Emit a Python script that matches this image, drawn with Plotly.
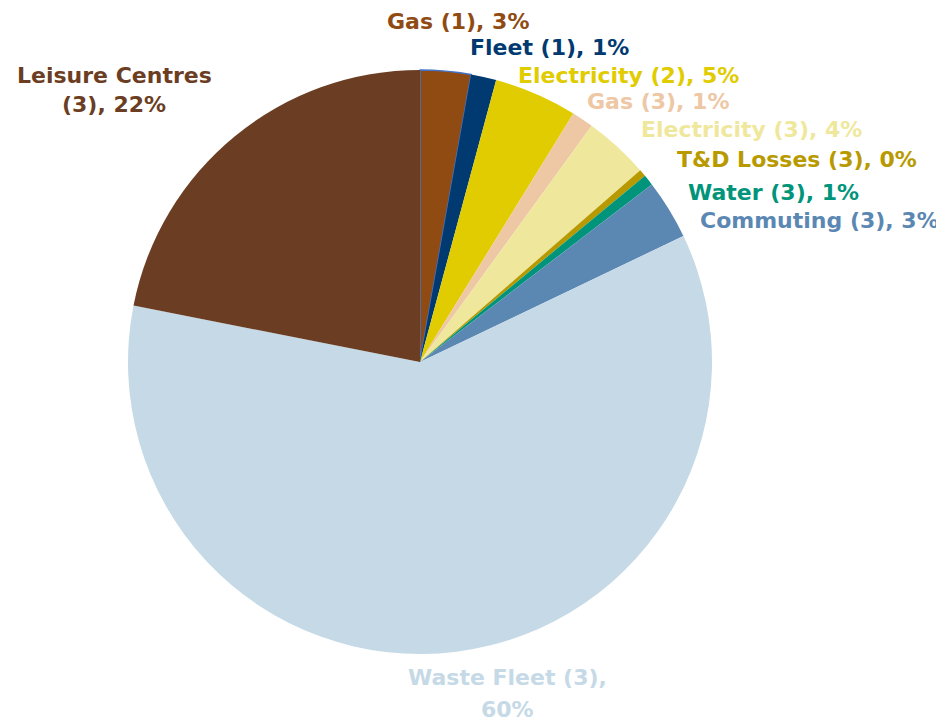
import plotly.graph_objects as go

labels = ['Gas (1)', 'Fleet (1)', 'Electricity (2)', 'Gas (3)', 'Electricity (3)',
          'T&D Losses (3)', 'Water (3)', 'Commuting (3)', 'Waste Fleet (3)', 'Leisure Centres (3)']
values = [2.8, 1.4, 4.6, 1.2, 3.6, 0.4, 0.6, 3.3, 60.2, 21.9]
pct_text = ['3%', '1%', '5%', '1%', '4%', '0%', '1%', '3%', '60%', '22%']
colors = ['#8F4B12', '#003A70', '#E0CC00', '#EEC7A5', '#EFE89C',
          '#B89A00', '#00957A', '#5B87B3', '#C5D9E6', '#6B3E23']

W, H = 944, 722
# plotly shifted the pie by ~(8, 7) px, so compensate here
cx, cy, r = 412, 354, 292

fig = go.Figure()
fig.add_trace(go.Pie(
    labels=labels, values=values, sort=False, direction='clockwise', rotation=0,
    marker=dict(colors=colors,
                line=dict(color=['#4472C4'] + ['rgba(0,0,0,0)'] * 9,
                          width=[1.5] + [0] * 9)),
    textinfo='none', hoverinfo='label+percent', showlegend=False,
    domain=dict(x=[(cx - r) / W, (cx + r) / W], y=[(H - cy - r) / H, (H - cy + r) / H]),
))

# label lines (pixel positions): x, y, anchor; one entry per slice, list for wrapped labels
label_pos = [
    [(377, 13, 'left')],
    [(460, 39, 'left')],
    [(508, 67, 'left')],
    [(577, 94, 'left')],
    [(631, 122, 'left')],
    [(667, 151, 'left')],
    [(678, 184, 'left')],
    [(690, 212, 'left')],
    [(499, 669, 'center'), (499, 701, 'center')],
    [(106, 67, 'center'), (106, 97, 'center')],
]
label_lines = [
    [f'{labels[i]}, {pct_text[i]}'] for i in range(8)
] + [['Waste Fleet (3),', '60%'], ['Leisure Centres', '(3), 22%']]

for pos, lines, col in zip(label_pos, label_lines, colors):
    for (x, y, anc), txt in zip(pos, lines):
        fig.add_annotation(x=x / W, y=1 - y / H, xref='paper', yref='paper', text=txt,
                           showarrow=False, xanchor=anc, yanchor='middle',
                           font=dict(family='DejaVu Sans', size=22, color=col, weight='bold'))

# edge of a neighbouring panel at the top-right corner
fig.add_shape(type='path', xref='paper', yref='paper',
              path=f'M {940.5/W},1 L {940.5/W},{1 - 30/H} Q {940.5/W},{1 - 40/H} {944/W},{1 - 40/H}',
              line=dict(color='#5B87B3', width=3), layer='above')

fig.update_layout(width=W, height=H, margin=dict(l=0, r=0, t=0, b=0),
                  paper_bgcolor='white', plot_bgcolor='white')
fig.write_html('out.html')
